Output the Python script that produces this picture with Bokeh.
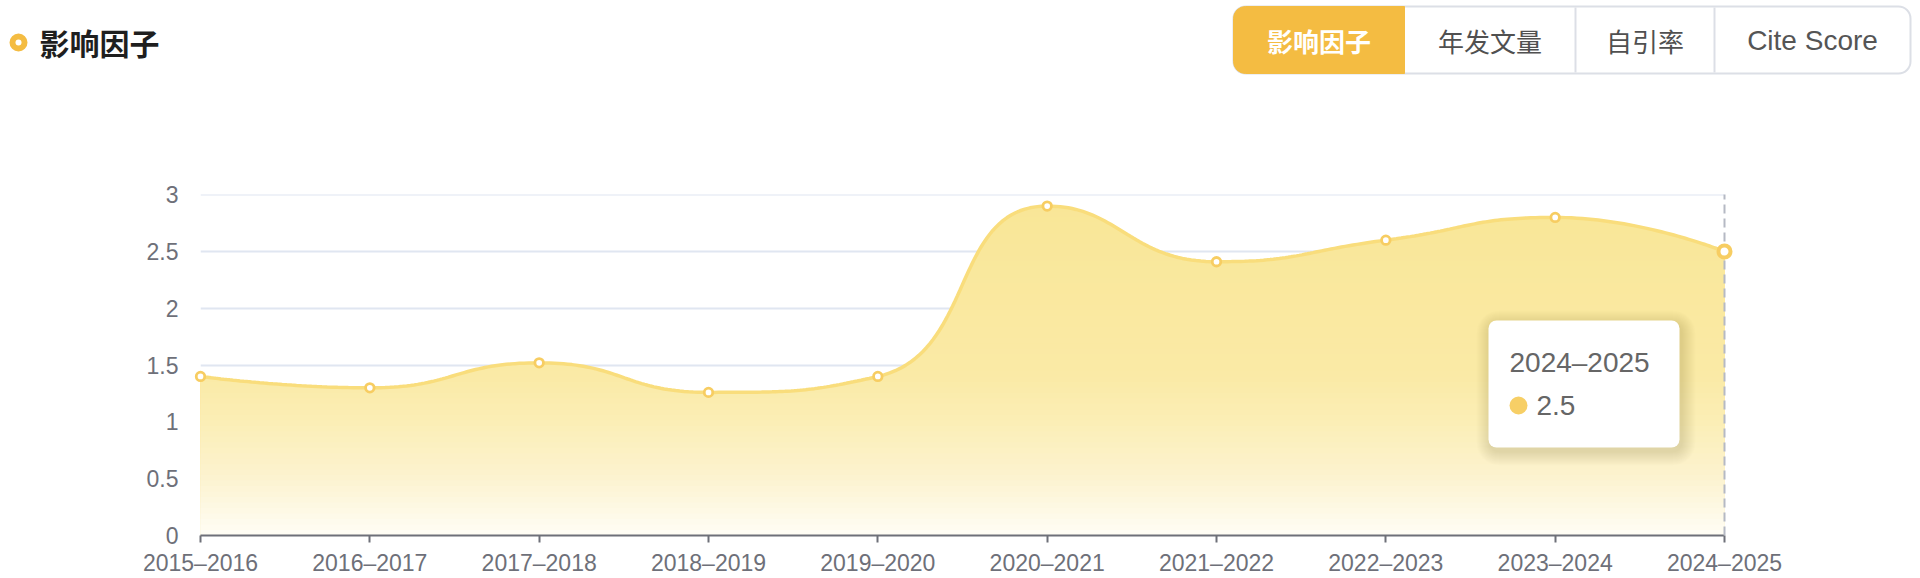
import math
import numpy as np
from bokeh.plotting import figure
from bokeh.models import Range1d, FixedTicker, NumeralTickFormatter
from bokeh.core.properties import value
from bokeh.embed import file_html
from bokeh.resources import INLINE

# ---------------- data ----------------
title = "影响因子"
tabs = ["影响因子", "年发文量", "自引率", "Cite Score"]
years = ["2015–2016", "2016–2017", "2017–2018", "2018–2019", "2019–2020",
         "2020–2021", "2021–2022", "2022–2023", "2023–2024", "2024–2025"]
impact = [1.4, 1.3, 1.52, 1.26, 1.4, 2.9, 2.41, 2.6, 2.8, 2.5]
y_ticks = [0, 0.5, 1, 1.5, 2, 2.5, 3]
hover_index = 9

# ---------------- geometry (screen px of the 1920x578 page) ----------------
W, H = 1920, 578
PAGE = 0
FL, FR, FT, FB = 200, 1724, 194, 535          # frame edges on screen
ML, MR, MT, MB = FL - PAGE, PAGE + W - FR, FT - PAGE, PAGE + H - FB
Y_MAX = 3.002
n = len(years)
sx = (FR - FL) / (n - 1)
sy = (FB - FT) / Y_MAX

LAB = "#6e7079"
GOLD = "#f4bc42"
FONT = "Liberation Sans"
CJK = "Noto Sans CJK SC"


def X(sxp):   # screen x -> data x
    return (sxp - FL) / sx


def Y(syp):   # screen y -> data y
    return (FB - syp) / sy


def echarts_smooth(xv, yv, smooth=0.5, samples=48):
    px = [v * sx for v in xv]
    py = [v * sy for v in yv]
    m = len(px)
    ox, oy = [px[0]], [py[0]]
    c0x, c0y = px[0], py[0]
    for i in range(1, m):
        x, y = px[i], py[i]
        prx, pry = px[i - 1], py[i - 1]
        if i < m - 1:
            nx, ny = px[i + 1], py[i + 1]
            vx, vy = nx - prx, ny - pry
            lp = math.hypot(x - prx, y - pry)
            ln = math.hypot(nx - x, ny - y)
            r = ln / (ln + lp)
            ncx = x + vx * smooth * r
            ncy = y + vy * smooth * r
            ncx = max(min(ncx, max(nx, x)), min(nx, x))
            ncy = max(min(ncy, max(ny, y)), min(ny, y))
            vx, vy = ncx - x, ncy - y
            c1x = x - vx * lp / ln
            c1y = y - vy * lp / ln
            c1x = max(min(c1x, max(prx, x)), min(prx, x))
            c1y = max(min(c1y, max(pry, y)), min(pry, y))
            vx, vy = x - c1x, y - c1y
            ncx = x + vx * ln / lp
            ncy = y + vy * ln / lp
        else:
            c1x, c1y = x, y
            ncx, ncy = x, y
        t = np.linspace(0, 1, samples)[1:]
        a, b, c, d = (1 - t) ** 3, 3 * (1 - t) ** 2 * t, 3 * (1 - t) * t ** 2, t ** 3
        ox.extend(a * prx + b * c0x + c * c1x + d * x)
        oy.extend(a * pry + b * c0y + c * c1y + d * y)
        c0x, c0y = ncx, ncy
    return np.array(ox) / sx, np.array(oy) / sy


p = figure(width=W, height=H, x_range=Range1d(0, n - 1), y_range=Range1d(0, Y_MAX),
           output_backend="svg", toolbar_location=None, outline_line_color=None,
           min_border_left=ML, min_border_right=MR, min_border_top=MT, min_border_bottom=MB)

xa = p.xaxis[0]
xa.ticker = FixedTicker(ticks=list(range(n)))
xa.major_label_overrides = {i: yr for i, yr in enumerate(years)}
xa.axis_line_color = LAB
xa.axis_line_width = 2
xa.major_tick_line_color = LAB
xa.major_tick_line_width = 2
xa.major_tick_out = 7
xa.major_tick_in = 0
xa.minor_tick_line_color = None
xa.major_label_standoff = 7
xa.major_label_text_font = FONT
xa.major_label_text_font_size = "23px"
xa.major_label_text_color = LAB

ya = p.yaxis[0]
ya.ticker = FixedTicker(ticks=y_ticks)
ya.formatter = NumeralTickFormatter(format="0.[0]")
ya.axis_line_color = None
ya.major_tick_line_color = None
ya.minor_tick_line_color = None
ya.major_label_standoff = 16
ya.major_label_text_font = FONT
ya.major_label_text_font_size = "23px"
ya.major_label_text_color = LAB

p.xgrid.visible = False
p.ygrid.ticker = FixedTicker(ticks=y_ticks)
p.ygrid.grid_line_color = "#e0e6f1"
p.ygrid.grid_line_width = 2

cx, cy = echarts_smooth(list(range(n)), impact)

# vertical gradient fill under the curve
stop_v = [0.0, 0.5, 1.0, 1.4, 3.0]
stop_c = [(255, 253, 246), (252, 243, 208), (251, 238, 182), (250, 234, 166), (249, 230, 150)]
top_v = float(cy.max())
N = 60
levels = np.linspace(top_v, 0, N + 1)[:-1]
step = top_v / N
for hi in levels:
    mid = hi - step / 2
    col = tuple(int(round(np.interp(mid, stop_v, [c[k] for c in stop_c]))) for k in range(3))
    p.varea(x=cx, y1=np.zeros_like(cx), y2=np.minimum(cy, hi),
            fill_color="#%02x%02x%02x" % col, fill_alpha=1)

p.line(cx, cy, line_color="#f9dd7c", line_width=3.5)

# hover guide line
p.segment(x0=[hover_index], y0=[0], x1=[hover_index], y1=[Y_MAX], line_color="#b5b9c4",
          line_width=2, line_dash="9 5", level="overlay")

p.scatter(x=list(range(n - 1)), y=impact[:-1], size=8.5, fill_color="white",
          line_color="#f7cd62", line_width=2.8, level="overlay")
p.scatter(x=[hover_index], y=[impact[hover_index]], size=12, fill_color="white",
          line_color="#f7cd62", line_width=4, level="overlay")

# ---------------- tooltip ----------------
tl, tr, tt, tb = 1488, 1679, 320, 447
for k in range(1, 15):
    p.quad(left=[X(tl - k + 2)], right=[X(tr + k + 2)], top=[Y(tt - k + 4)],
           bottom=[Y(tb + k + 4)], fill_color="black", fill_alpha=0.008,
           line_color=None, border_radius=8 + k, level="overlay")
p.quad(left=[X(tl)], right=[X(tr)], top=[Y(tt)], bottom=[Y(tb)],
       fill_color="white", line_color=None, border_radius=8, level="overlay")
p.text(x=[X(1509)], y=[Y(362)], text=[years[hover_index]], text_font=value(FONT),
       text_font_size="28px", text_color="#666666", text_baseline="middle",
       text_align="left", level="overlay")
p.scatter(x=[X(1518)], y=[Y(405)], size=18, fill_color="#f7cf66", line_color=None,
          level="overlay")
p.text(x=[X(1536)], y=[Y(405)], text=[str(impact[hover_index])], text_font=value(FONT),
       text_font_size="28px", text_color="#666666", text_baseline="middle",
       text_align="left", level="overlay")

# ---------------- header (title + tab buttons) ----------------
dcx, dcy, ro, ri = 18, 42, 9, 3
p.quad(left=[X(dcx - ro)], right=[X(dcx + ro)], top=[Y(dcy - ro)], bottom=[Y(dcy + ro)],
       fill_color=GOLD, line_color=None, border_radius=ro, level="overlay")
p.quad(left=[X(dcx - ri)], right=[X(dcx + ri)], top=[Y(dcy - ri)], bottom=[Y(dcy + ri)],
       fill_color="white", line_color=None, border_radius=ri, level="overlay")
p.text(x=[X(39)], y=[Y(41.5)], text=[title], text_font=value(CJK), text_font_style="bold",
       text_font_size="30px", text_color="#1f1f1f", text_baseline="middle",
       text_align="left", level="overlay")

bl, br, bt, bb = 1233, 1910, 6, 73
p.quad(left=[X(bl)], right=[X(br)], top=[Y(bt)], bottom=[Y(bb)], fill_color="white",
       line_color="#dcdfe6", line_width=2, border_radius=12, level="overlay")
divs = [1404, 1575, 1714]
p.quad(left=[X(bl)], right=[X(divs[0])], top=[Y(bt)], bottom=[Y(bb)], fill_color=GOLD,
       line_color=GOLD, line_width=1, border_radius=(12, 0, 0, 12), level="overlay")
p.segment(x0=[X(d) for d in divs[1:]], y0=[Y(bt + 1)] * 2, x1=[X(d) for d in divs[1:]],
          y1=[Y(bb - 1)] * 2, line_color="#dcdfe6", line_width=2, level="overlay")
edges = [bl] + divs + [br]
centers = [X((edges[i] + edges[i + 1]) / 2) for i in range(len(tabs))]
ty = Y(40)
p.text(x=centers[:1], y=[ty], text=tabs[:1], text_font=value(CJK), text_font_style="bold",
       text_font_size="26px", text_color="white", text_baseline="middle",
       text_align="center", level="overlay")
p.text(x=centers[1:3], y=[ty, ty], text=tabs[1:3], text_font=value(CJK),
       text_font_size="26px", text_color="#505050", text_baseline="middle",
       text_align="center", level="overlay")
p.text(x=centers[3:], y=[ty], text=tabs[3:], text_font=value(FONT),
       text_font_size="28px", text_color="#555555", text_baseline="middle",
       text_align="center", level="overlay")

open("out.html", "w").write(file_html(p, INLINE))
